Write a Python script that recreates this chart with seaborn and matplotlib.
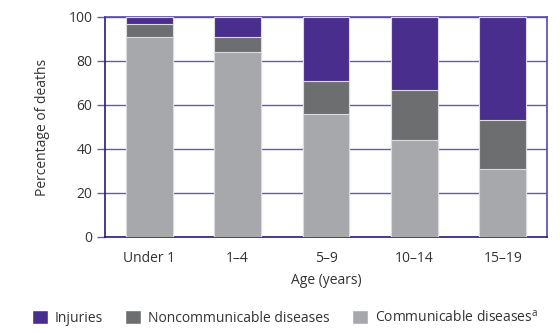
import matplotlib
matplotlib.use("Agg")
import matplotlib.pyplot as plt
import seaborn as sns
import pandas as pd
from matplotlib.patches import Patch

ages = ["Under 1", "1–4", "5–9", "10–14", "15–19"]
communicable = [91, 84, 56, 44, 31]
noncommunicable = [6, 7, 15, 23, 22]
injuries = [3, 9, 29, 33, 47]

series_labels = ["Injuries", "Noncommunicable diseases", "Communicable diseases$^{\\mathrm{a}}$"]
colors = {"inj": "#4a2e8e", "nc": "#6d6e70", "c": "#a7a8ab"}

sns.set_theme(style="white")
plt.rcParams["font.family"] = ["Open Sans", "DejaVu Sans"]
plt.rcParams["mathtext.fontset"] = "custom"
plt.rcParams["mathtext.rm"] = "Open Sans"

df = pd.DataFrame({"age": ages, "c": communicable, "nc": noncommunicable, "inj": injuries})
df["cum_nc"] = df["c"] + df["nc"]
df["cum_inj"] = df["cum_nc"] + df["inj"]

fig = plt.figure(figsize=(5.6, 3.33), dpi=100)
ax = fig.add_axes([105/560, 1 - 237/333, 442/560, 220/333])

for col, key in [("cum_inj", "inj"), ("cum_nc", "nc"), ("c", "c")]:
    sns.barplot(data=df, x="age", y=col, color=colors[key], saturation=1,
                width=0.53, edgecolor="#dcdce0", linewidth=0.8, ax=ax, zorder=3)

ax.set_ylim(0, 100)
ax.set_xlim(-0.5, 4.5)
ax.set_yticks([0, 20, 40, 60, 80, 100])
ax.grid(axis="y", color="#6a58b0", linewidth=1.0, zorder=0)
ax.set_axisbelow(True)
for s in ["left", "bottom"]:
    ax.spines[s].set_color("#2b1a78")
    ax.spines[s].set_linewidth(1.2)
for s in ["top", "right"]:
    ax.spines[s].set_color("#5a48a8")
    ax.spines[s].set_linewidth(1.2)
ax.tick_params(axis="y", length=6, width=1, color="#6a58b0", labelsize=10, pad=3, left=True)
ax.tick_params(axis="x", length=0, labelsize=10, pad=10)
for t in ax.get_xticklabels() + ax.get_yticklabels():
    t.set_color("#333333")
ax.set_ylabel("Percentage of deaths", fontsize=10, color="#333333", labelpad=13)
ax.set_xlabel("Age (years)", fontsize=10, color="#333333", labelpad=5)

handles = [Patch(facecolor=colors["inj"]), Patch(facecolor=colors["nc"]), Patch(facecolor=colors["c"])]
fig.legend(handles, series_labels, loc="center", bbox_to_anchor=(285/560, 1 - 318/333), ncol=3,
           frameon=False, fontsize=10, handlelength=1.15, handleheight=1.15,
           columnspacing=1.6, handletextpad=0.5, labelcolor="#333333")

fig.savefig("out.png", dpi=100)
